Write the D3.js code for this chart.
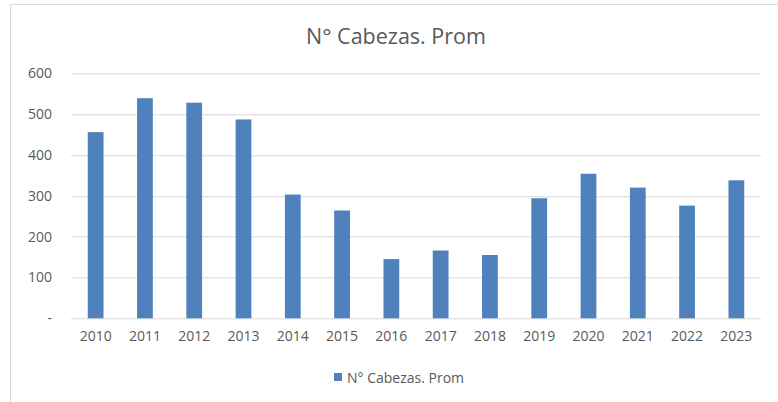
<!DOCTYPE html>
<html>
<head>
<meta charset="utf-8">
<script src="https://cdn.jsdelivr.net/npm/d3@7"></script>
<style>
  body { margin: 0; background: #fff; }
  text { font-family: "Open Sans", sans-serif; fill: #595959; }
</style>
</head>
<body>
<div id="chart"></div>
<script>
// data
var years = ["2010", "2011", "2012", "2013", "2014", "2015", "2016",
             "2017", "2018", "2019", "2020", "2021", "2022", "2023"];
var cabezas = [456, 539, 528, 487, 303, 264, 145, 166, 155, 294, 354, 320, 276, 338];
var yTicks = [0, 100, 200, 300, 400, 500, 600];
var seriesName = "N° Cabezas. Prom";

var W = 778, H = 402;
var margin = {top: 73.3, right: 17, bottom: 83.7, left: 71};
var width = W - margin.left - margin.right,
    height = H - margin.top - margin.bottom;

var svg = d3.select("#chart").append("svg")
    .attr("width", W).attr("height", H);

// outer chart border (only top and left edges fall inside the frame)
svg.append("rect")
    .attr("x", 10.5).attr("y", 4.5)
    .attr("width", W).attr("height", H)
    .attr("fill", "none")
    .attr("stroke", "#d9d9d9");

var g = svg.append("g")
    .attr("transform", "translate(" + margin.left + "," + margin.top + ")");

var x = d3.scaleBand().domain(years).range([0, width]).paddingInner(0.68).paddingOuter(0.34);
var y = d3.scaleLinear().domain([0, 600]).range([height, 0]);

// gridlines
g.selectAll("line.grid")
    .data(yTicks)
    .enter().append("line")
    .attr("class", "grid")
    .attr("x1", 0).attr("x2", width)
    .attr("y1", function(d) { return Math.round(y(d)) + 0.5; })
    .attr("y2", function(d) { return Math.round(y(d)) + 0.5; })
    .attr("stroke", "#d9d9d9")
    .attr("stroke-width", 1);

// y labels
var yAxis = g.append("g")
    .call(d3.axisLeft(y).tickValues(yTicks)
        .tickFormat(function(d) { return d === 0 ? "-" : d; })
        .tickSize(0).tickPadding(19));
yAxis.select(".domain").remove();
yAxis.selectAll("text")
    .style("font-size", "14px")
    .attr("fill", "#595959");

// bars
g.selectAll("rect.bar")
    .data(cabezas)
    .enter().append("rect")
    .attr("class", "bar")
    .attr("x", function(d, i) { return x(years[i]); })
    .attr("width", x.bandwidth())
    .attr("y", function(d) { return y(d); })
    .attr("height", function(d) { return height - y(d); })
    .attr("fill", "#4f81bd");

// x labels
var xAxis = g.append("g")
    .attr("transform", "translate(0," + height + ")")
    .call(d3.axisBottom(x).tickSize(0).tickPadding(13));
xAxis.select(".domain").remove();
xAxis.selectAll("text")
    .style("font-size", "14px")
    .attr("fill", "#595959");

// title
svg.append("text")
    .attr("x", 396)
    .attr("y", 43.5)
    .attr("text-anchor", "middle")
    .style("font-size", "21.5px")
    .text(seriesName);

// legend
var leg = svg.append("g").attr("transform", "translate(334,373)");
leg.append("rect")
    .attr("width", 8).attr("height", 8)
    .attr("fill", "#4f81bd");
leg.append("text")
    .attr("x", 13).attr("y", 9.5)
    .style("font-size", "14px")
    .text(seriesName);
</script>
</body>
</html>
